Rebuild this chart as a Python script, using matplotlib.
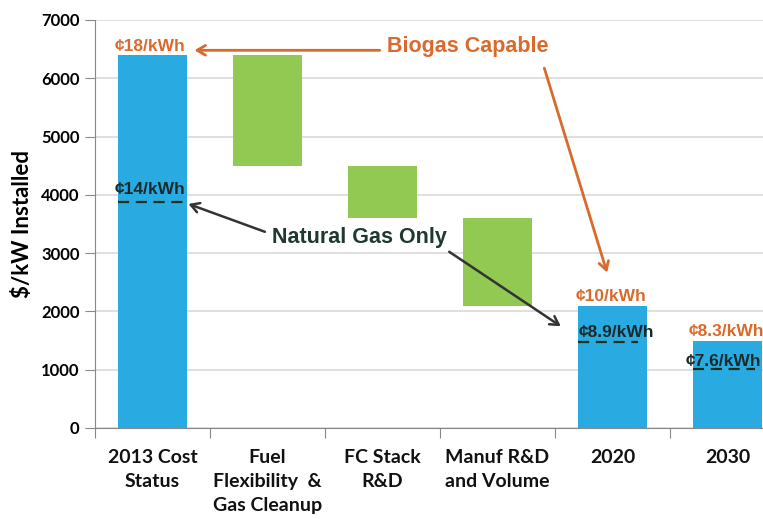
import matplotlib
matplotlib.use("Agg")
import matplotlib.pyplot as plt
from matplotlib.transforms import offset_copy

categories = ["2013 Cost\nStatus", "Fuel\nFlexibility  &\nGas Cleanup", "FC Stack\nR&D",
              "Manuf R&D\nand Volume", "2020", "2030"]
bar_bottom = [0, 4500, 3600, 2100, 0, 0]
bar_top = [6400, 6400, 4500, 3600, 2100, 1500]
bar_kind = ["total", "step", "step", "step", "total", "total"]
ng_level = [3880, None, None, None, 1475, 1010]
biogas_labels = ["¢18/kWh", None, None, None, "¢10/kWh", "¢8.3/kWh"]
ng_labels = ["¢14/kWh", None, None, None, "¢8.9/kWh", "¢7.6/kWh"]
yticks = [0, 1000, 2000, 3000, 4000, 5000, 6000, 7000]

BLUE = "#29ABE2"
GREEN = "#92C953"
ORANGE = "#DA6A2C"
DARK = "#1E3A2E"

W, H = 763, 519
fig = plt.figure(figsize=(W / 100, H / 100), dpi=100)
ax_left, ax_right, ax_bot, ax_top = 95, 763, 428, 20
ax = fig.add_axes([ax_left / W, (H - ax_bot) / H, (ax_right - ax_left) / W, (ax_bot - ax_top) / H])

x = list(range(len(categories)))
heights = [t - b for t, b in zip(bar_top, bar_bottom)]
colors = [BLUE if k == "total" else GREEN for k in bar_kind]
ax.bar(x, heights, bottom=bar_bottom, width=0.6, color=colors, zorder=2)

ax.set_ylim(0, 7000)
ax.set_xlim(-0.5, -0.5 + (ax_right - ax_left) / 115)
ax.set_yticks(yticks)
ax.set_yticklabels([str(v) for v in yticks], fontsize=12, fontweight="bold", family="Lato")
ax.grid(axis="y", color="#D9D9D9", lw=1.2, zorder=0)
ax.set_axisbelow(True)
for s in ["top", "right"]:
    ax.spines[s].set_visible(False)
ax.spines["left"].set_color("#888888")
ax.spines["bottom"].set_color("#888888")
ax.tick_params(axis="y", length=7, color="#888888", pad=4)
ax.set_xticks([i + 0.5 for i in x[:-1]] + [-0.5], minor=False)
ax.set_xticklabels([""] * len(x))
ax.tick_params(axis="x", length=7, color="#888888")
lab_tr = offset_copy(ax.get_xaxis_transform(), fig=fig, x=0, y=-15, units="points")
for i, c in enumerate(categories):
    ax.text(i, 0, c, ha="center", va="top", fontsize=14, fontweight="bold",
            family="Lato", color="#111111", linespacing=1.5, transform=lab_tr)

ax.set_ylabel("$/kW Installed", fontsize=16, fontweight="bold", family="Lato", labelpad=6)

# dashed natural-gas levels
offs = {0: (-0.3, 0.3), 4: (-0.3, 0.22), 5: (-0.3, 0.24)}
for i, lvl in enumerate(ng_level):
    if lvl is not None:
        a, b = offs[i]
        ax.plot([i + a, i + b], [lvl, lvl], ls=(0, (5, 3)), color="#1A2E1A", lw=1.6, zorder=3)

# labels
bio_pos = {0: (-0.02, 6420), 4: (3.99, 2120), 5: (4.99, 1530)}
for i, lab in enumerate(biogas_labels):
    if lab:
        px, py = bio_pos[i]
        ax.text(px, py, lab, ha="center", va="bottom", color=ORANGE, fontsize=12.5,
                fontweight="bold", family="Liberation Sans", zorder=4)
ng_pos = {0: (-0.02, 3970), 4: (4.03, 1510), 5: (4.96, 1020)}
for i, lab in enumerate(ng_labels):
    if lab:
        px, py = ng_pos[i]
        ax.text(px, py, lab, ha="center", va="bottom", color="#1A2A2A", fontsize=12.5,
                fontweight="bold", family="Liberation Sans", zorder=4)

ax.text(2.74, 6540, "Biogas Capable", ha="center", va="center", color=ORANGE,
        fontsize=15.5, fontweight="bold", family="Liberation Sans")
ax.text(1.80, 3260, "Natural Gas Only", ha="center", va="center", color=DARK,
        fontsize=15.5, fontweight="bold", family="Liberation Sans")

aprops_o = dict(arrowstyle="->,head_length=0.6,head_width=0.35", color=ORANGE, lw=2)
ax.annotate("", xy=(0.34, 6480), xytext=(2.0, 6480), arrowprops=aprops_o)
ax.annotate("", xy=(3.96, 2620), xytext=(3.40, 6220), arrowprops=aprops_o)
aprops_d = dict(arrowstyle="->,head_length=0.6,head_width=0.35", color="#333333", lw=1.8)
ax.annotate("", xy=(0.29, 3860), xytext=(1.0, 3350), arrowprops=aprops_d)
ax.annotate("", xy=(3.57, 1720), xytext=(2.56, 3050), arrowprops=aprops_d)

fig.savefig("out.png", dpi=100)
